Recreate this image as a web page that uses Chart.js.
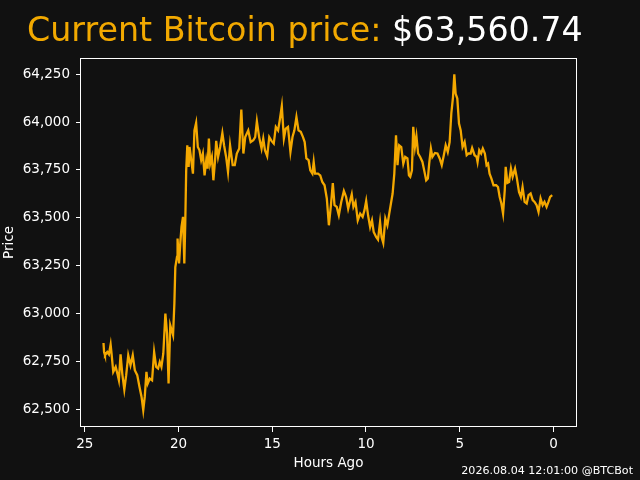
<!DOCTYPE html>
<html><head><meta charset="utf-8">
<script src="https://cdn.jsdelivr.net/npm/chart.js@4.4.1/dist/chart.umd.min.js"></script>
<style>
html,body{margin:0;padding:0;background:#111111;}
#wrap{position:relative;width:640px;height:480px;overflow:hidden;background:#111111;}
#title{position:absolute;left:27px;top:13px;font:33.3px/1 "DejaVu Sans";white-space:nowrap;}
#title .lbl{color:#f2a900}
#title .val{color:#ffffff}
#footer{position:absolute;right:7px;top:465px;font:11.1px/1 "DejaVu Sans";color:#ffffff;white-space:nowrap;}
canvas{position:absolute;left:0;top:0}
</style></head><body>
<div id="wrap">
<canvas id="c" width="640" height="480"></canvas>
<div id="title"><span class="lbl">Current Bitcoin price: </span><span class="val">$63,560.74</span></div>
<div id="footer">2026.08.04 12:01:00 @BTCBot</div>
</div>
<script>
const hoursAgo = [24.00,23.97,23.92,23.80,23.71,23.62,23.57,23.48,23.35,23.26,
23.18,23.09,23.00,22.89,22.79,22.68,22.56,22.44,22.33,22.20,
22.08,21.97,21.88,21.80,21.71,21.64,21.53,21.41,21.30,21.19,
21.09,21.00,20.91,20.81,20.70,20.61,20.53,20.44,20.29,20.22,
20.17,20.08,20.05,19.97,19.90,19.84,19.76,19.69,19.64,19.59,
19.53,19.46,19.41,19.32,19.23,19.15,19.06,18.97,18.88,18.79,
18.70,18.61,18.52,18.45,18.38,18.31,18.22,18.14,18.05,17.99,
17.89,17.78,17.66,17.57,17.46,17.36,17.25,17.11,17.00,16.89,
16.76,16.65,16.54,16.44,16.28,16.15,16.01,15.91,15.82,15.70,
15.57,15.48,15.39,15.27,15.16,15.04,14.92,14.81,14.69,14.60,
14.49,14.38,14.28,14.16,14.03,13.92,13.82,13.71,13.60,13.48,
13.36,13.27,13.18,13.06,12.97,12.86,12.79,12.72,12.56,12.44,
12.33,12.21,12.09,11.98,11.87,11.77,11.68,11.56,11.45,11.32,
11.18,11.06,10.95,10.84,10.76,10.67,10.56,10.44,10.31,10.18,
10.08,9.99,9.89,9.78,9.68,9.59,9.46,9.36,9.25,9.17,
9.08,8.97,8.86,8.76,8.67,8.58,8.49,8.40,8.32,8.23,
8.12,8.01,7.91,7.79,7.71,7.64,7.55,7.48,7.39,7.31,
7.22,7.11,6.99,6.88,6.79,6.70,6.63,6.54,6.46,6.32,
6.19,6.07,5.96,5.85,5.75,5.64,5.54,5.45,5.36,5.29,
5.22,5.13,5.04,4.95,4.85,4.74,4.63,4.53,4.42,4.34,
4.21,4.10,4.05,3.96,3.86,3.77,3.66,3.57,3.49,3.41,
3.31,3.20,3.06,2.96,2.87,2.78,2.69,2.60,2.55,2.46,
2.37,2.27,2.18,2.05,1.95,1.84,1.74,1.65,1.54,1.43,
1.33,1.22,1.11,1.01,0.90,0.80,0.69,0.58,0.48,0.37,
0.27,0.18,0.07];

const prices = [62846,62799,62782,62799,62787,62838,62791,62695,62721,62686,
62651,62787,62686,62603,62678,62782,62730,62782,62704,62678,
62616,62564,62495,62564,62695,62634,62660,62651,62799,62721,
62713,62747,62721,62791,63000,62895,62634,62939,62887,63052,
63243,63296,63392,63261,63374,63452,63505,63261,63470,63748,
63879,63766,63870,63801,63731,63957,63996,63870,63853,63801,
63836,63722,63801,63757,63914,63783,63818,63696,63801,63902,
63818,63870,63943,63879,63818,63740,63879,63775,63775,63836,
63862,64066,63836,63922,63957,63896,63905,63922,64004,63922,
63862,63914,63853,63822,63922,63902,63888,63975,63957,64010,
64084,63914,63966,63975,63844,63922,63957,64027,63957,63949,
63922,63896,63810,63801,63748,63731,63792,63731,63731,63722,
63687,63670,63601,63461,63566,63682,63566,63557,63513,63583,
63640,63609,63548,63592,63623,63557,63583,63487,63522,63505,
63540,63588,63513,63452,63487,63426,63400,63386,63478,63400,
63369,63496,63461,63522,63575,63627,63731,63931,63775,63879,
63870,63783,63818,63810,63722,63714,63748,63975,63870,63926,
63836,63818,63792,63740,63696,63705,63783,63862,63818,63839,
63836,63810,63775,63827,63879,63844,63896,64045,64131,64250,
64149,64123,63992,63957,63870,63896,63827,63836,63836,63865,
63827,63818,63792,63853,63836,63862,63836,63775,63783,63731,
63705,63670,63670,63661,63609,63575,63522,63644,63766,63682,
63687,63757,63714,63757,63705,63635,63609,63661,63583,63575,
63618,63627,63592,63583,63566,63531,63601,63566,63583,63557,
63583,63609,63618];

const xTickStep = 5;
const yTickStep = 250;

const ORANGE = '#f4a800';
const WHITE = '#ffffff';
Chart.defaults.font.family = '"DejaVu Sans"';

const frame = {
  id: 'frame',
  afterDraw(chart) {
    const {ctx, chartArea: a} = chart;
    ctx.save();
    ctx.strokeStyle = WHITE;
    ctx.lineWidth = 1;
    const x0 = Math.round(a.left) - 0.5, y0 = Math.round(a.top) + 0.5;
    const x1 = Math.round(a.right) + 0.5, y1 = Math.round(a.bottom) - 0.5;
    ctx.strokeRect(x0, y0, x1 - x0, y1 - y0);
    ctx.restore();
  }
};

new Chart(document.getElementById('c'), {
  type: 'line',
  data: {
    datasets: [{
      data: hoursAgo.map((h, i) => ({x: h, y: prices[i]})),
      borderColor: ORANGE,
      borderWidth: 2.3,
      pointRadius: 0,
      tension: 0,
      fill: false
    }]
  },
  options: {
    responsive: false,
    animation: false,
    devicePixelRatio: 1,
    layout: {padding: {left: 0, right: 64, top: 58, bottom: 0}},
    plugins: {legend: {display: false}, tooltip: {enabled: false}, title: {display: false}},
    scales: {
      x: {
        type: 'linear', reverse: true, min: -1.2, max: 25.2,
        afterFit: s => { s.height = 53; },
        ticks: {stepSize: xTickStep, includeBounds: false, color: WHITE, font: {size: 13.5}, padding: 4.5, maxRotation: 0, autoSkip: false},
        grid: {display: true, drawOnChartArea: false, drawTicks: true, tickLength: 5, color: WHITE, tickColor: WHITE},
        border: {display: false},
        title: {display: true, text: 'Hours Ago', color: WHITE, font: {size: 13.5}, padding: {top: 0, bottom: 8.5}}
      },
      y: {
        type: 'linear', min: 62407, max: 64335,
        afterFit: s => { s.width = 81; },
        ticks: {stepSize: yTickStep, includeBounds: false, color: WHITE, font: {size: 13.5}, padding: 6,
                callback: v => Number(v).toLocaleString('en-US')},
        grid: {display: true, drawOnChartArea: false, drawTicks: true, tickLength: 5, color: WHITE, tickColor: WHITE},
        border: {display: false},
        title: {display: true, text: 'Price', color: WHITE, font: {size: 13.5}, padding: {top: 1.5, bottom: 0}}
      }
    }
  },
  plugins: [frame]
});
</script>
</body></html>
